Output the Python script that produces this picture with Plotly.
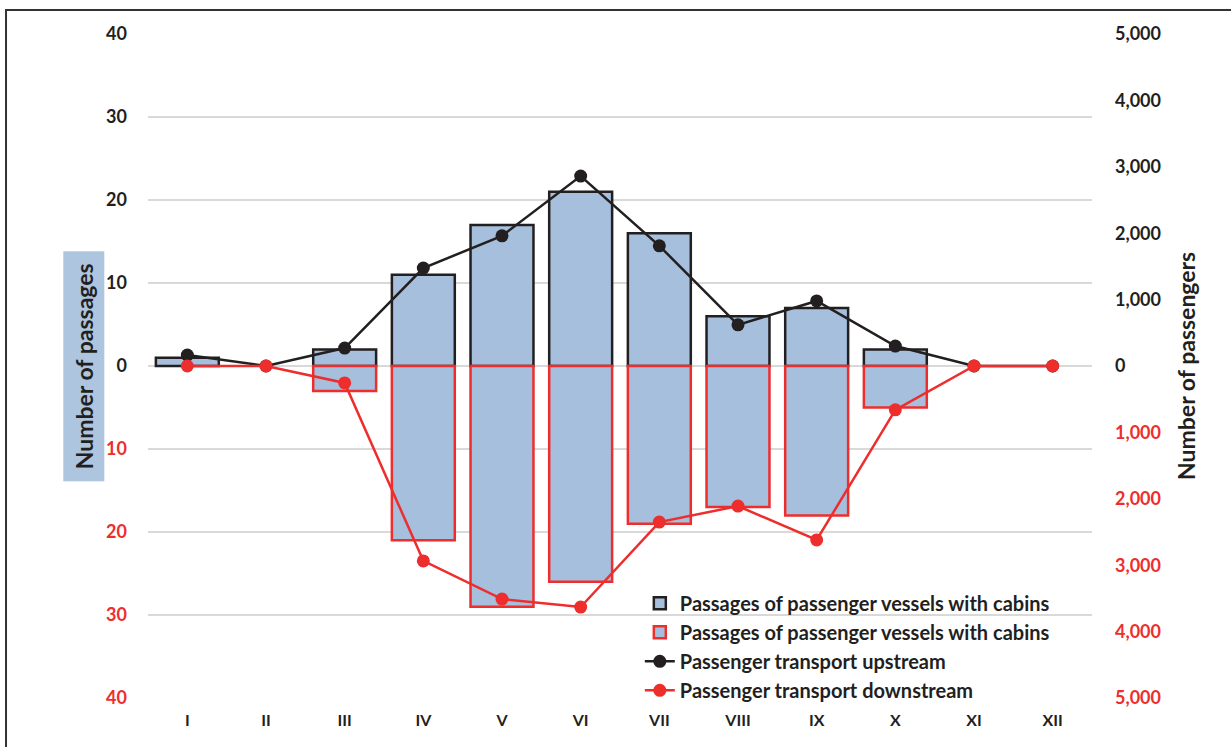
import plotly.graph_objects as go

months = ["I", "II", "III", "IV", "V", "VI", "VII", "VIII", "IX", "X", "XI", "XII"]
passages_up = [1, 0, 2, 11, 17, 21, 16, 6, 7, 2, 0, 0]
passages_down = [0, 0, 3, 21, 29, 26, 19, 17, 18, 5, 0, 0]
passengers_up = [165, 0, 270, 1475, 1960, 2860, 1810, 620, 980, 300, 0, 0]
passengers_down = [0, 0, 255, 2935, 3510, 3630, 2350, 2110, 2620, 660, 0, 0]

left_ticks = [40, 30, 20, 10, 0, -10, -20, -30, -40]
right_ticks = [5000, 4000, 3000, 2000, 1000, 0, -1000, -2000, -3000, -4000, -5000]

BLACK = "#231f20"
RED = "#ee2d2d"
FILL = "#a5bfdc"
FONT = "Lato"

def lab(v, fmt):
    s = fmt(abs(v))
    if v < 0:
        return f'<span style="color:{RED}">{s}</span>'
    return s

def bar_vals(vals, sign):
    # zero-height bars are not drawn in the original
    return [sign * v if v != 0 else None for v in vals]

fig = go.Figure()
fig.add_trace(go.Bar(x=months, y=bar_vals(passages_up, 1), name="Passages of passenger vessels with cabins",
                     marker=dict(color=FILL, line=dict(color=BLACK, width=2.5)), width=0.8))
fig.add_trace(go.Bar(x=months, y=bar_vals(passages_down, -1), name="Passages of passenger vessels with cabins",
                     marker=dict(color=FILL, line=dict(color=RED, width=2.5)), width=0.8))
fig.add_trace(go.Scatter(x=months, y=passengers_up, name="Passenger transport upstream", yaxis="y2",
                         mode="lines+markers", line=dict(color=BLACK, width=2.5),
                         marker=dict(color=BLACK, size=13)))
fig.add_trace(go.Scatter(x=months, y=[-v for v in passengers_down], name="Passenger transport downstream", yaxis="y2",
                         mode="lines+markers", line=dict(color=RED, width=2.5),
                         marker=dict(color=RED, size=13)))

fig.update_layout(
    width=1231, height=747,
    margin=dict(l=148, r=139, t=34, b=49),
    paper_bgcolor="white", plot_bgcolor="white",
    barmode="overlay",
    font=dict(family=FONT, color=BLACK, size=16),
    showlegend=True,
    legend=dict(x=0.521, y=0.172, xanchor="left", yanchor="top", bgcolor="rgba(0,0,0,0)",
                font=dict(family=FONT, size=20, color=BLACK, weight="bold"), tracegroupgap=0),
    xaxis=dict(range=[-0.5, 11.5], showgrid=False, showline=False, ticks="", zeroline=False, ticklabelstandoff=11,
               tickfont=dict(family=FONT, size=16, color=BLACK, weight="bold")),
    yaxis=dict(range=[-40, 40], tickvals=left_ticks, ticktext=[lab(v, lambda a: f"{a:g}") for v in left_ticks],
               showgrid=True, gridcolor="#d9d9d9", gridwidth=1.5, zeroline=False, ticks="", showline=False,
               tickfont=dict(family=FONT, size=18, color=BLACK, weight="bold"), ticklabelstandoff=20),
    yaxis2=dict(range=[-5000, 5000], tickvals=right_ticks, ticktext=[lab(v, lambda a: f"{a:,.0f}") for v in right_ticks],
                overlaying="y", side="right", showgrid=False, zeroline=False, ticks="", showline=False,
                tickfont=dict(family=FONT, size=18, color=BLACK, weight="bold"), ticklabelstandoff=22),
    shapes=[dict(type="rect", xref="paper", yref="paper", x0=-0.1504, x1=1.3, y0=-0.3, y1=1.036,
                 line=dict(color="#333333", width=2), fillcolor="rgba(0,0,0,0)", layer="below")],
    annotations=[
        dict(text="<b>Number of passages</b>", xref="paper", yref="paper", x=-0.068, y=0.5,
             xanchor="center", yanchor="middle", textangle=-90, showarrow=False,
             bgcolor="#adc5df", width=227, height=38,
             font=dict(family=FONT, size=23, color=BLACK)),
        dict(text="<b>Number of passengers</b>", xref="paper", yref="paper", x=1.0995, y=0.5,
             xanchor="center", yanchor="middle", textangle=-90, showarrow=False,
             font=dict(family=FONT, size=23, color=BLACK)),
    ],
)

fig.write_html("out.html", config={"displayModeBar": False},
               post_script="document.body.style.margin='0';document.body.style.overflow='hidden';")
